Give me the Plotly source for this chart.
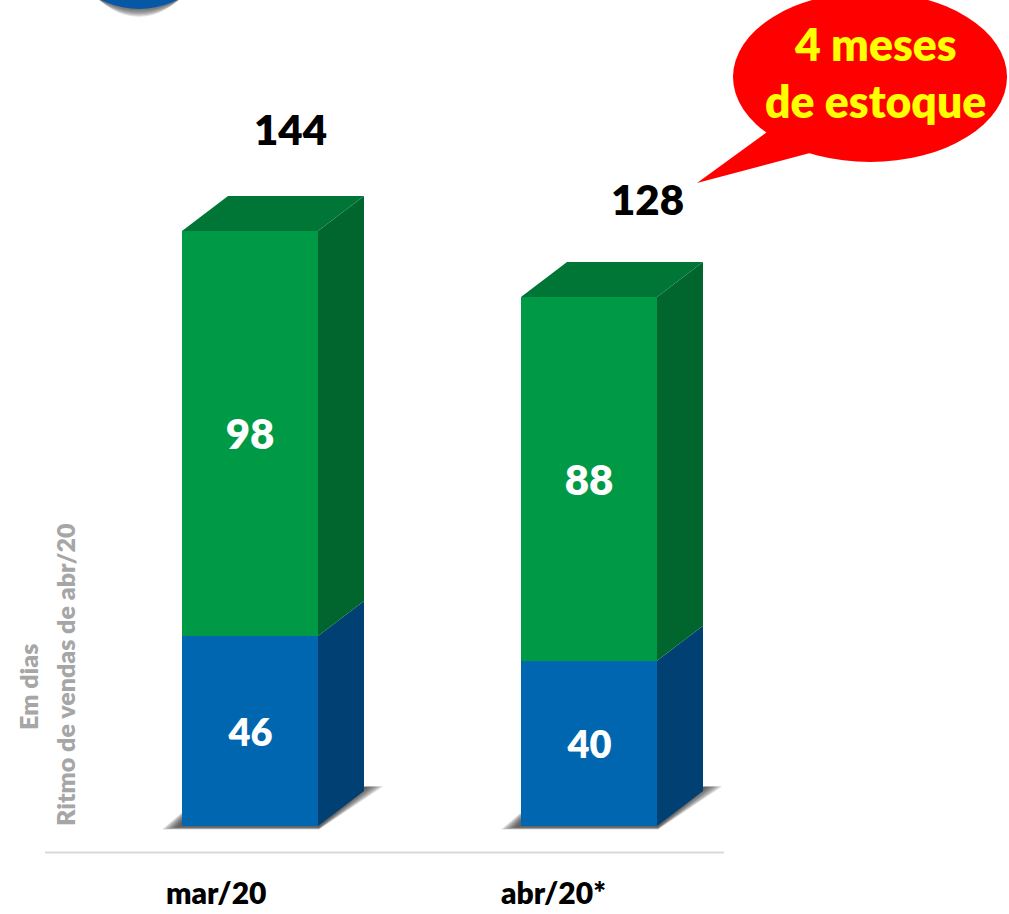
import plotly.graph_objects as go

categories = ["mar/20", "abr/20*"]
positions = [0, 1]
blue_values = [46, 40]
green_values = [98, 88]
totals = [144, 128]

W, H = 1009, 914
PX_X = 339.0      # pixels per category
PX_Y = 595 / 144  # pixels per day
X0, Y0 = 250, 826 # pixel position of first category / baseline
BAR_W = 136 / PX_X
DX = 46 / PX_X
DY = 35 / PX_Y

FONT = "Lato, Carlito, Calibri, sans-serif"
GREEN, GREEN_SIDE, GREEN_TOP = "#009A46", "#00662E", "#007636"
BLUE, BLUE_SIDE = "#0066B0", "#004072"


def dx(p):
    return (p - X0) / PX_X


def dy(p):
    return (Y0 - p) / PX_Y


fig = go.Figure()
fig.add_bar(x=positions, y=blue_values, width=BAR_W, marker=dict(color=BLUE, line_width=0),
            text=blue_values, textposition="inside", insidetextanchor="middle", textangle=0,
            insidetextfont=dict(family=FONT, size=38, color="white", weight=800), cliponaxis=False)
fig.add_bar(x=positions, y=green_values, width=BAR_W, marker=dict(color=GREEN, line_width=0),
            text=green_values, textposition="inside", insidetextanchor="middle", textangle=0,
            insidetextfont=dict(family=FONT, size=42, color="white", weight=800), cliponaxis=False)


def face(xs, ys, color):
    fig.add_scatter(x=xs, y=ys, mode="lines", fill="toself", fillcolor=color,
                    line=dict(width=0, color=color), hoverinfo="skip")


for i, x in enumerate(positions):
    r = x + BAR_W / 2
    l = x - BAR_W / 2
    b, g = blue_values[i], green_values[i]
    t = b + g
    face([r, r + DX, r + DX, r, r], [0, DY, b + DY, b, 0], BLUE_SIDE)
    face([r, r + DX, r + DX, r, r], [b, b + DY, t + DY, t, b], GREEN_SIDE)
    face([l, l + DX, r + DX, r, l], [t, t + DY, t + DY, t, t], GREEN_TOP)

shapes = []
# floor shadows: stacked translucent layers give the soft edge
for x in positions:
    cx = X0 + x * PX_X
    for k in range(7):
        g = 7 - k
        path = (f"M {dx(cx - 68 - 3 - g * 2.4)} {dy(827 + g * 0.35)} "
                f"L {dx(cx + 68 + 1)} {dy(827 + g * 0.35)} "
                f"L {dx(cx + 68 + 47 + g * 2.6)} {dy(787 - g * 0.1)} "
                f"L {dx(cx - 68 + 30)} {dy(787)} Z")
        shapes.append(dict(type="path", path=path, xref="x", yref="y", layer="below",
                           fillcolor="rgba(40,40,40,0.17)", line_width=0))

# axis line
shapes.append(dict(type="line", xref="x", yref="y", x0=dx(45), x1=dx(724), y0=dy(852.5), y1=dy(852.5),
                   line=dict(color="#D9D9D9", width=2)))

# blue circle cut off by the top edge, with its shadow
for k in range(6):
    g = 6 - k
    shapes.append(dict(type="circle", xref="x", yref="y", layer="below",
                       x0=dx(139 - 85 + 3 * g), x1=dx(139 + 85 - 3 * g), y0=dy(-76 - 85), y1=dy(-76 + 85 + 1.3 * g),
                       fillcolor="rgba(60,60,60,0.17)", line_width=0))
shapes.append(dict(type="circle", xref="x", yref="y", x0=dx(139 - 85), x1=dx(139 + 85),
                   y0=dy(-76 - 85), y1=dy(-76 + 85), fillcolor="#0658A6", line_width=0))

# speech bubble
shapes.append(dict(type="circle", xref="x", yref="y", x0=dx(733), x1=dx(1007), y0=dy(-8), y1=dy(162),
                   fillcolor="#FF0000", line_width=0))
shapes.append(dict(type="path", xref="x", yref="y",
                   path=f"M {dx(767)} {dy(132)} L {dx(697)} {dy(183)} L {dx(810)} {dy(153)} Z",
                   fillcolor="#FF0000", line_width=0))

annotations = []
total_shift = [(40, 102), (58, 98)]
for x, tot, (sx, sy) in zip(positions, totals, total_shift):
    annotations.append(dict(x=x, y=tot, xref="x", yref="y", text=f"{tot}", showarrow=False,
                            xshift=sx, yshift=sy, font=dict(family=FONT, size=42, color="black", weight=800)))
label_shift = [-34, -36]
for x, c, sx in zip(positions, categories, label_shift):
    annotations.append(dict(x=x, y=dy(892), xref="x", yref="y", text=c, showarrow=False,
                            xshift=sx, font=dict(family=FONT, size=30, color="black", weight=800)))
annotations += [
    dict(x=dx(875), y=dy(43), xref="x", yref="y", text="4 meses", showarrow=False,
         font=dict(family=FONT, size=44.5, color="#FFFF00", weight=800)),
    dict(x=dx(875), y=dy(100), xref="x", yref="y", text="de estoque", showarrow=False,
         font=dict(family=FONT, size=44.5, color="#FFFF00", weight=800)),
    dict(x=dx(28), y=dy(687), xref="x", yref="y", text="Em dias", showarrow=False, textangle=-90,
         font=dict(family=FONT, size=25, color="#A6A6A6", weight=800)),
    dict(x=dx(65), y=dy(675), xref="x", yref="y", text="Ritmo de vendas de abr/20", showarrow=False,
         textangle=-90, font=dict(family=FONT, size=25, color="#A6A6A6", weight=800)),
]

fig.update_layout(
    width=W, height=H, margin=dict(l=0, r=0, t=0, b=0),
    barmode="stack", showlegend=False, paper_bgcolor="white", plot_bgcolor="white",
    xaxis=dict(range=[dx(0), dx(W)], visible=False, fixedrange=True),
    yaxis=dict(range=[dy(H), dy(0)], visible=False, fixedrange=True),
    shapes=shapes, annotations=annotations,
)
fig.write_html("out.html", config=dict(displayModeBar=False),
               post_script="document.body.style.margin='0';document.body.style.overflow='hidden';")
